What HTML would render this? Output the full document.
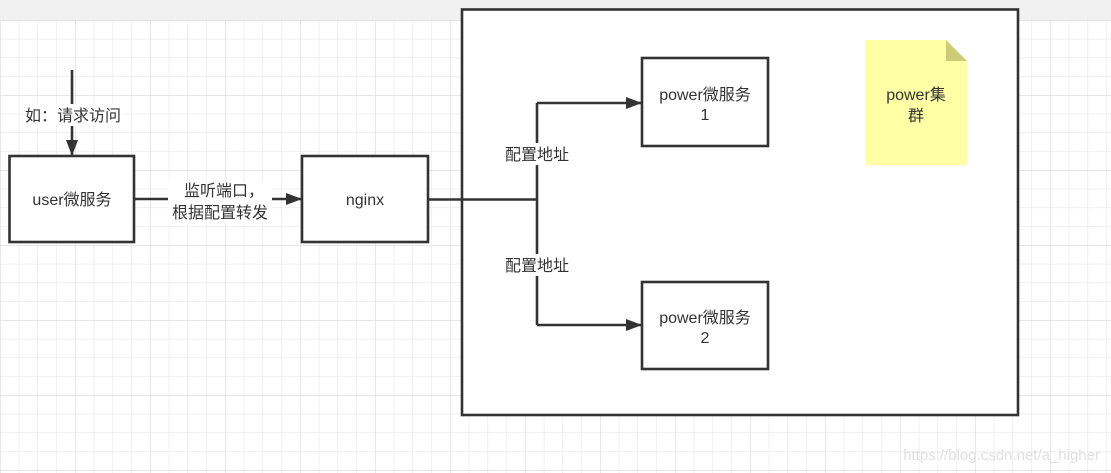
<!DOCTYPE html>
<html><head><meta charset="utf-8"><style>
html,body{margin:0;padding:0;background:#fff;}
svg{display:block;}
text{font-family:"Liberation Sans","Noto Sans CJK SC",sans-serif;font-size:16px;fill:#333;}
</style></head><body>
<svg width="1111" height="473" viewBox="0 0 1111 473" xmlns="http://www.w3.org/2000/svg">
<defs>
<pattern id="g" x="0" y="20" width="18.75" height="18.75" patternUnits="userSpaceOnUse">
<path d="M0 0H18.75M0 0V18.75" stroke="#e6e6e6" stroke-width="1.2" fill="none"/>
</pattern>
<pattern id="G" x="0" y="20" width="75" height="75" patternUnits="userSpaceOnUse">
<path d="M0 0H75M0 0V75" stroke="#dcdcdc" stroke-width="1.2" fill="none"/>
</pattern>
<marker id="a" markerWidth="16" markerHeight="12" refX="15" refY="6" orient="auto" markerUnits="userSpaceOnUse">
<path d="M0 0L16 6L0 12Z" fill="#333"/>
</marker>
</defs>
<rect x="0" y="0" width="1111" height="473" fill="#fff"/>
<rect x="0" y="20" width="1111" height="453" fill="url(#g)"/>
<rect x="0" y="20" width="1111" height="453" fill="url(#G)"/>
<rect x="0" y="0" width="1111" height="20" fill="#f1f1f1"/>

<rect x="462" y="9.5" width="556" height="405.5" fill="#fff" stroke="#333" stroke-width="2.6"/>

<path d="M866 40H946L967 61V165H866Z" fill="#ffffa6"/>
<path d="M946 40L967 61H946Z" fill="#cccc77"/>
<text x="916" y="100" text-anchor="middle">power集</text>
<text x="916" y="121" text-anchor="middle">群</text>

<rect x="9.5" y="156" width="124.5" height="86" fill="#fff" stroke="#333" stroke-width="2.6"/>
<text x="72" y="205" text-anchor="middle">user微服务</text>
<rect x="302" y="156" width="126" height="86" fill="#fff" stroke="#333" stroke-width="2.6"/>
<text x="365" y="205" text-anchor="middle">nginx</text>
<rect x="642" y="58" width="126" height="88" fill="#fff" stroke="#333" stroke-width="2.6"/>
<text x="705" y="100" text-anchor="middle">power微服务</text>
<text x="705" y="120" text-anchor="middle">1</text>
<rect x="642" y="282" width="126" height="87" fill="#fff" stroke="#333" stroke-width="2.6"/>
<text x="705" y="323" text-anchor="middle">power微服务</text>
<text x="705" y="343" text-anchor="middle">2</text>

<g stroke="#333" stroke-width="2.6" fill="none">
<path d="M72 70V155" marker-end="url(#a)"/>
<path d="M134 199H301" marker-end="url(#a)"/>
<path d="M428 199.5H537"/>
<path d="M537 103V325"/>
<path d="M537 103H641" marker-end="url(#a)"/>
<path d="M537 325H641" marker-end="url(#a)"/>
</g>
<rect x="23" y="104" width="100" height="22" fill="#fff"/>
<text x="73" y="121" text-anchor="middle">如：请求访问</text>
<rect x="168" y="181" width="104" height="42" fill="#fff"/>
<text x="224" y="196" text-anchor="middle">监听端口，</text>
<text x="220" y="218" text-anchor="middle">根据配置转发</text>
<rect x="503" y="143" width="68" height="22" fill="#fff"/>
<text x="537" y="160" text-anchor="middle">配置地址</text>
<rect x="503" y="254" width="68" height="22" fill="#fff"/>
<text x="537" y="271" text-anchor="middle">配置地址</text>

<text x="1100" y="460" text-anchor="end" style="font-size:15px;fill:#e0e0e0">https://blog.csdn.net/a_higher</text>
</svg>
</body></html>
